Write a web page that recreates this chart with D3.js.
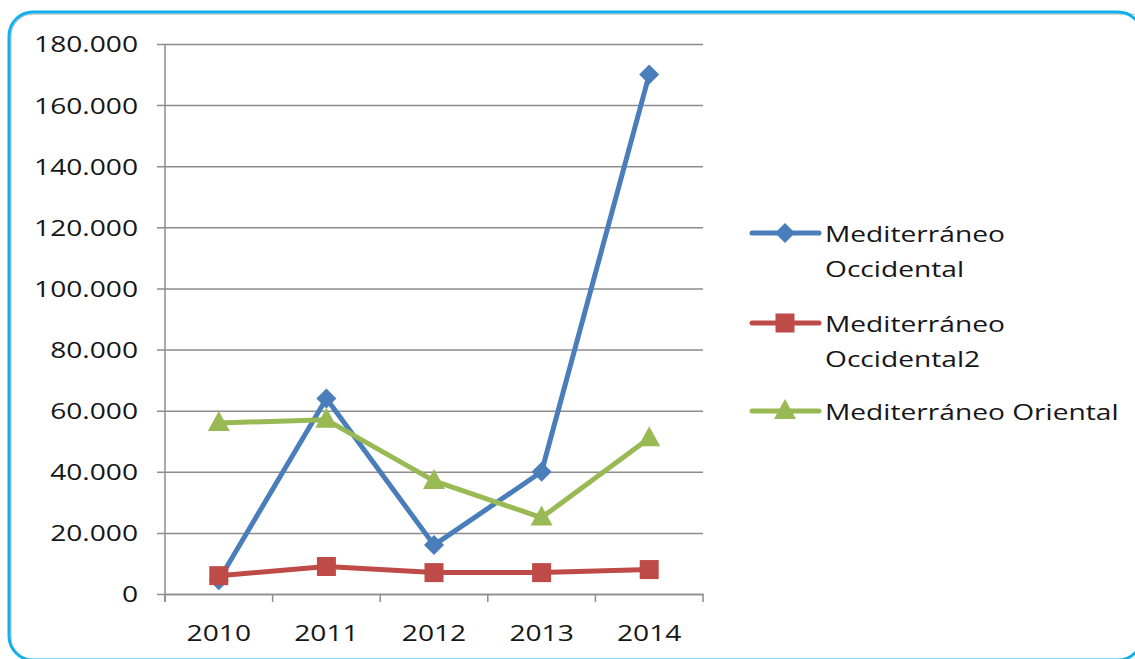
<!DOCTYPE html>
<html>
<head>
<meta charset="utf-8">
<script src="https://cdn.jsdelivr.net/npm/d3@7"></script>
<style>
  body { margin: 0; background: #fff; }
  text { font-family: "Open Sans", "DejaVu Sans", sans-serif; fill: #161616; }
</style>
</head>
<body>
<svg id="chart" width="1135" height="659"></svg>
<script>
// chart data
const years = ["2010", "2011", "2012", "2013", "2014"];
const occidental = [4500, 64000, 16000, 40000, 170000];
const occidental2 = [6000, 9000, 7000, 7000, 8000];
const oriental = [56000, 57000, 37000, 25000, 51000];
const seriesNames = ["Mediterráneo Occidental", "Mediterráneo Occidental2", "Mediterráneo Oriental"];
const yTicks = [0, 20000, 40000, 60000, 80000, 100000, 120000, 140000, 160000, 180000];

const series = [
    { name: seriesNames[0], lines: ["Mediterráneo", "Occidental"], values: occidental, color: "#4A7EBB", marker: "diamond" },
    { name: seriesNames[1], lines: ["Mediterráneo", "Occidental2"], values: occidental2, color: "#BE4B48", marker: "square" },
    { name: seriesNames[2], lines: ["Mediterráneo Oriental"], values: oriental, color: "#98B954", marker: "triangle" }
];

// the source picture is stretched sideways, so text gets squashed back out
const stretch = 1.28;
const fontSize = 22;

const svg = d3.select("#chart");

// rounded frame, runs off the right and bottom edges
svg.append("rect")
    .attr("x", 11).attr("y", 14)
    .attr("width", 1140).attr("height", 646)
    .attr("rx", 22)
    .attr("fill", "none")
    .attr("stroke", "#c8c8c8")
    .attr("stroke-width", 1.5);
svg.append("rect")
    .attr("x", 9).attr("y", 12)
    .attr("width", 1133).attr("height", 648)
    .attr("rx", 24)
    .attr("fill", "none")
    .attr("stroke", "#12B0EA")
    .attr("stroke-width", 3);

const plot = { left: 165, right: 703, top: 44, bottom: 594 };

const x = d3.scaleBand()
    .domain(years)
    .range([plot.left, plot.right]);

const y = d3.scaleLinear()
    .domain([0, 180000])
    .range([plot.bottom, plot.top]);

const fmt = v => v === 0 ? "0" : d3.format(",")(v).replace(/,/g, ".");

// horizontal gridlines + tick marks
const yAxis = d3.axisLeft(y)
    .tickValues(yTicks)
    .tickSize(-(plot.right - plot.left))
    .tickFormat(fmt);

const gy = svg.append("g")
    .attr("transform", `translate(${plot.left},0)`)
    .call(yAxis);
gy.select(".domain").remove();
gy.selectAll(".tick line")
    .attr("x1", -8)
    .attr("stroke", "#8c8c8c")
    .attr("stroke-width", 1.5);
gy.selectAll(".tick text")
    .attr("font-size", fontSize)
    .attr("x", -27 / stretch)
    .attr("dy", "0.36em")
    .attr("transform", `scale(${stretch},1)`);

// vertical axis line
svg.append("line")
    .attr("x1", plot.left).attr("x2", plot.left)
    .attr("y1", plot.top).attr("y2", plot.bottom + 8)
    .attr("stroke", "#8c8c8c")
    .attr("stroke-width", 1.5);

// category axis
const xAxis = d3.axisBottom(x).tickSize(0).tickPadding(31);
const gx = svg.append("g")
    .attr("transform", `translate(0,${plot.bottom})`)
    .call(xAxis);
gx.select(".domain")
    .attr("stroke", "#8c8c8c")
    .attr("stroke-width", 1.5);
gx.selectAll(".tick text")
    .attr("font-size", fontSize)
    .attr("transform", `scale(${stretch},1)`);

// tick marks between categories
const bounds = years.map(d => x(d)).concat([x(years[years.length - 1]) + x.bandwidth()]);
gx.selectAll(".sep")
    .data(bounds)
    .enter().append("line")
    .attr("x1", d => d).attr("x2", d => d)
    .attr("y1", 0).attr("y2", 8)
    .attr("stroke", "#8c8c8c")
    .attr("stroke-width", 1.5);

const cx = d => x(d) + x.bandwidth() / 2;

function drawMarker(g, type, color, px, py) {
    if (type === "diamond") {
        g.append("path")
            .attr("d", `M${px},${py - 10}L${px + 10},${py}L${px},${py + 10}L${px - 10},${py}Z`)
            .attr("fill", color);
    } else if (type === "square") {
        g.append("rect")
            .attr("x", px - 9.5).attr("y", py - 9.5)
            .attr("width", 19).attr("height", 19)
            .attr("fill", color);
    } else {
        g.append("path")
            .attr("d", `M${px},${py - 12}L${px + 11},${py + 8}L${px - 11},${py + 8}Z`)
            .attr("fill", color);
    }
}

const line = d3.line()
    .x((d, i) => cx(years[i]))
    .y(d => y(d));

// series lines and markers
series.forEach(s => {
    const g = svg.append("g");
    g.append("path")
        .datum(s.values)
        .attr("d", line)
        .attr("fill", "none")
        .attr("stroke", s.color)
        .attr("stroke-width", 5)
        .attr("stroke-linejoin", "round");
    s.values.forEach((v, i) => drawMarker(g, s.marker, s.color, cx(years[i]), y(v)));
});

// legend
const legendY = [233, 323, 411];
const legend = svg.append("g");
series.forEach((s, i) => {
    const ly = legendY[i];
    legend.append("line")
        .attr("x1", 752).attr("x2", 819)
        .attr("y1", ly).attr("y2", ly)
        .attr("stroke", s.color)
        .attr("stroke-width", 5)
        .attr("stroke-linecap", "round");
    drawMarker(legend, s.marker, s.color, 785, ly);
    const t = legend.append("text")
        .attr("transform", `translate(825,${ly + 8.5}) scale(${stretch},1)`)
        .attr("font-size", fontSize);
    s.lines.forEach((ln, j) => {
        t.append("tspan")
            .attr("x", 0)
            .attr("dy", j === 0 ? 0 : 36)
            .text(ln);
    });
});
</script>
</body>
</html>
